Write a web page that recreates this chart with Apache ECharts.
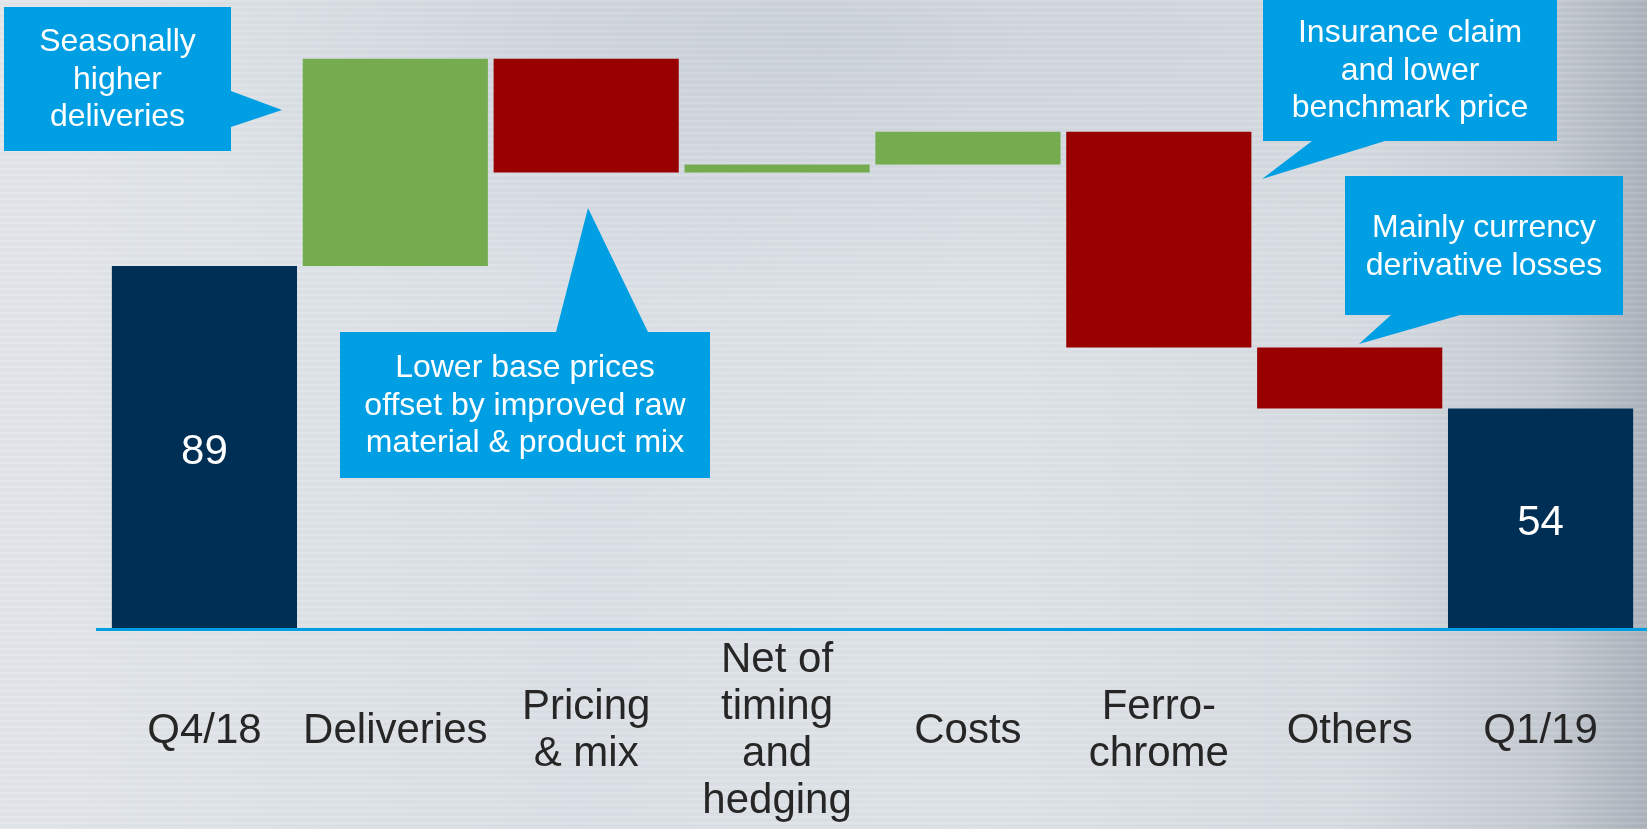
<!DOCTYPE html>
<html>
<head>
<meta charset="utf-8">
<script src="https://cdn.jsdelivr.net/npm/echarts@6/dist/echarts.min.js"></script>
<style>
html,body{margin:0;padding:0;width:1647px;height:829px;overflow:hidden;}
body{
  background:
    repeating-linear-gradient(180deg, rgba(255,255,255,0.10) 0px, rgba(255,255,255,0.10) 2px, rgba(120,130,140,0.035) 3px, rgba(255,255,255,0) 6px),
    radial-gradient(ellipse 700px 260px at 820px 40px, rgba(160,170,182,0.30), rgba(160,170,182,0) 100%),
    linear-gradient(90deg, #e1e5e9 0%, #dadfe5 35%, #dde2e7 60%, #d6dbe1 82%, #c3c9d0 94%, #aab1ba 100%);
}
#chart{width:1647px;height:829px;}
</style>
</head>
<body>
<div id="chart"></div>
<script>
// ---- data ----
var categories = ['Q4/18', 'Deliveries', 'Pricing\n& mix', 'Net of\ntiming\nand\nhedging', 'Costs', 'Ferro-\nchrome', 'Others', 'Q1/19'];
var startValue = 89;
var changes = [51, -28, 2, 8, -53, -15];
var endValue = 54;

// colours
var cTotal = '#002f55', cUp = '#75ac50', cDown = '#990000', cBlue = '#009fe3';
var font = "'Liberation Sans', Arial, sans-serif";

// build waterfall
var baseData = [], valData = [];
baseData.push(0);
valData.push({value: startValue, itemStyle: {color: cTotal}, label: {show: true}});
var running = startValue;
changes.forEach(function (d) {
  var lo = d >= 0 ? running : running + d;
  baseData.push(lo);
  valData.push({value: Math.abs(d), itemStyle: {color: d >= 0 ? cUp : cDown}, label: {show: false}});
  running += d;
});
baseData.push(0);
valData.push({value: endValue, itemStyle: {color: cTotal}, label: {show: true}});

var chart = echarts.init(document.getElementById('chart'), null, {renderer: 'canvas'});

function callout(points, cx, cy, text) {
  return [
    {type: 'polygon', shape: {points: points}, style: {fill: cBlue}, z: 100},
    {type: 'text', x: cx, y: cy, z: 101,
      style: {text: text, align: 'center', verticalAlign: 'middle', fill: '#ffffff',
        fontSize: 32, fontFamily: font, lineHeight: 37.5}}
  ];
}

var graphics = [].concat(
  [{type: 'rect', shape: {x: 96, y: 628, width: 1560, height: 3}, style: {fill: cBlue}, z: 50}],
  callout([[4,7],[231,7],[231,91],[282,110],[231,127],[231,151],[4,151]], 117.5, 80, 'Seasonally\nhigher\ndeliveries'),
  callout([[340,332],[556,332],[588,208],[648,332],[710,332],[710,478],[340,478]], 525, 406, 'Lower base prices\noffset by improved raw\nmaterial & product mix'),
  callout([[1263,-2],[1557,-2],[1557,141],[1385,141],[1262,179],[1312,141],[1263,141]], 1410, 71, 'Insurance claim\nand lower\nbenchmark price'),
  callout([[1345,176],[1623,176],[1623,315],[1460,315],[1359,344],[1391,315],[1345,315]], 1484, 247, 'Mainly currency\nderivative losses')
);

chart.setOption({
  backgroundColor: 'transparent',
  animation: false,
  grid: {left: 109, width: 1527, top: 18, height: 610},
  xAxis: {
    type: 'category',
    data: categories,
    axisLine: {show: false},
    axisTick: {show: false},
    axisLabel: {
      interval: 0, margin: 103, verticalAlign: 'middle',
      fontSize: 42, lineHeight: 47, color: '#262626', fontFamily: font
    }
  },
  yAxis: {
    type: 'value', min: 0, max: 150,
    show: false, splitLine: {show: false}
  },
  series: [
    {
      type: 'bar', stack: 'w', data: baseData,
      itemStyle: {color: 'transparent'}, silent: true,
      barCategoryGap: '3%'
    },
    {
      type: 'bar', stack: 'w', data: valData,
      barCategoryGap: '3%',
      label: {
        position: 'inside', color: '#ffffff', fontSize: 42, fontFamily: font,
        offset: [0, 5],
        formatter: function (p) { return p.value; }
      }
    }
  ],
  graphic: graphics
});
</script>
</body>
</html>
